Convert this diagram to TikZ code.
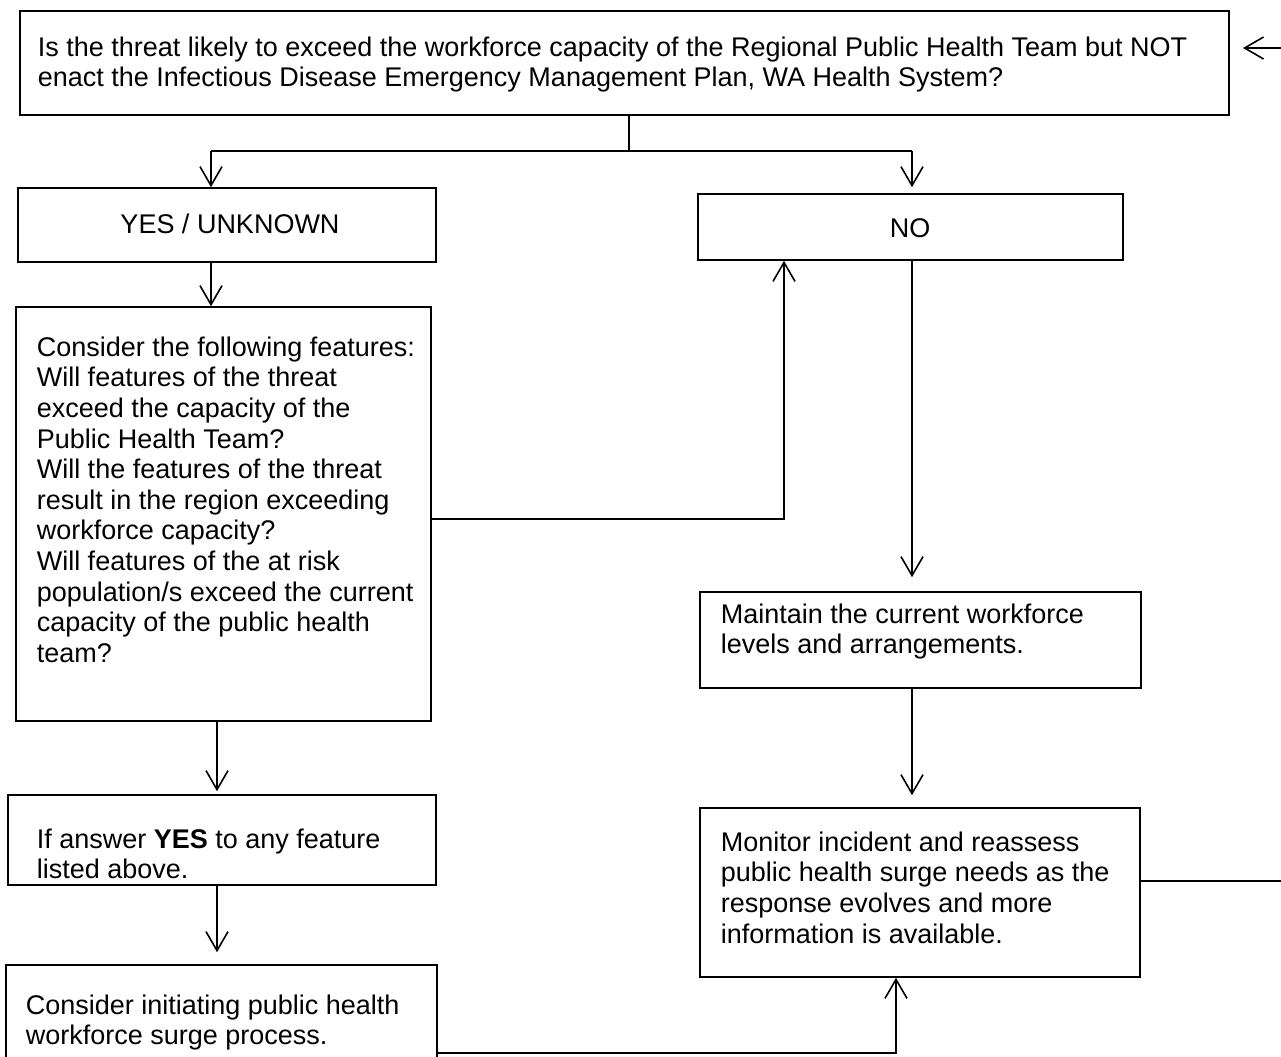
\documentclass[tikz,border=0pt]{standalone}
\usepackage{fontspec}
\setmainfont{Liberation Sans}
\usetikzlibrary{arrows.meta,fit}
\begin{document}
\begin{tikzpicture}[x=0.5pt,y=-0.5pt,
  line width=0.8pt,
  box/.style={draw, inner sep=0pt, line width=0.8pt},
  lbl/.style={inner sep=0pt, font=\fontsize{13.5}{15.3}\selectfont},
  txt/.style={inner sep=0pt, anchor=north west, align=left, font=\fontsize{13.5}{15.3}\selectfont},
  arr/.style={-{Straight Barb[length=9.5pt,width=11pt,line width=0.8pt]}}
]
\useasboundingbox (0,0) rectangle (1281,1056);
\clip (0,0) rectangle (1281,1056);

% boxes
\node[box, fit={(20,11) (1229,115)}] (q) {};
\node[box, fit={(18,188) (436,262)}] (yes) {};
\node[box, fit={(698,194) (1123,260)}] (no) {};
\node[box, fit={(16,307) (431,721)}] (cons) {};
\node[box, fit={(700,592) (1141,688)}] (maint) {};
\node[box, fit={(700,808) (1140,977)}] (mon) {};
\node[box, fit={(8,795) (436,885)}] (ifans) {};
\node[box, fit={(6,965) (437,1070)}] (init) {};

% texts
\node[lbl] (tyes) at (230,224) {YES / UNKNOWN};
\node[lbl] (tno) at (910,228) {NO};
\node[txt] (tq) at (37,36) {Is the threat likely to exceed the workforce capacity of the Regional Public Health Team but NOT\\enact the Infectious Disease Emergency Management Plan, WA Health System?};
\node[txt] (tcons) at (36,336) {Consider the following features:\\Will features of the threat\\exceed the capacity of the\\Public Health Team?\\Will the features of the threat\\result in the region exceeding\\workforce capacity?\\Will features of the at risk\\population/s exceed the current\\capacity of the public health\\team?};
\node[txt] (tmaint) at (720,603) {Maintain the current workforce\\levels and arrangements.};
\node[txt] (tmon) at (720,831) {Monitor incident and reassess\\public health surge needs as the\\response evolves and more\\information is available.};
\node[txt] (tif) at (36,828) {If answer \textbf{YES} to any feature\\listed above.};
\node[txt] (tinit) at (25,994) {Consider initiating public health\\workforce surge process.};

% connector points
\coordinate (trunk) at (629,151);
\coordinate (ly) at (211,151);
\coordinate (ry) at (912,151);
\coordinate (cr) at (784,519);
\coordinate (lx) at (217,0);
\coordinate (rend) at (1281,881);
\coordinate (bl) at (896,1053);
\coordinate (extin) at (1281,48);
\coordinate (extout) at (1243,48);

% connectors
\draw[arr] (extin) -- (extout);
\draw (q.south -| trunk) -- (trunk);
\draw (ly) -- (ry);
\draw[arr] (ly) -- (ly |- yes.north);
\draw[arr] (ry) -- ([yshift=3pt]ry |- no.north);
\draw[arr] (yes.south -| ly) -- (ly |- cons.north);
\draw[arr] (cons.east |- cr) -- (cr) -- (cr |- no.south);
\draw[arr] (no.south -| ry) -- ([yshift=7pt]ry |- maint.north);
\draw[arr] (maint.south -| ry) -- ([yshift=6pt]ry |- mon.north);
\draw (mon.east |- rend) -- (rend);
\draw[arr] (cons.south -| lx) -- ([yshift=1.5pt]lx |- ifans.north);
\draw[arr] (ifans.south -| lx) -- ([yshift=6pt]lx |- init.north);
\draw[arr] (init.east |- bl) -- (bl) -- (bl |- mon.south);
\end{tikzpicture}
\end{document}
